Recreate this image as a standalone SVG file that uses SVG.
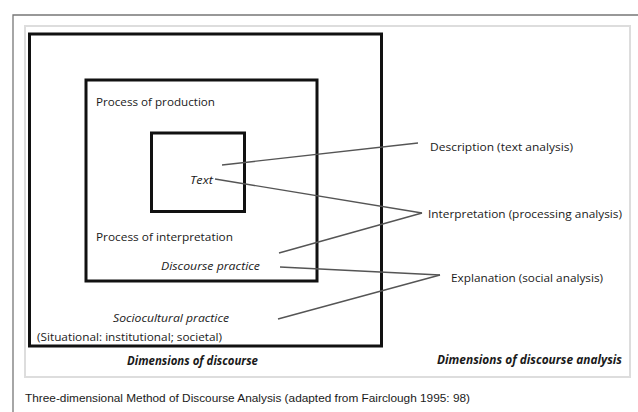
<svg xmlns="http://www.w3.org/2000/svg" width="638" height="412" viewBox="0 0 638 412">
<style>
.box{fill:none;stroke:#111;stroke-width:3}
.t{font-family:"Open Sans",Lato,"Liberation Sans",sans-serif;font-size:11.5px;fill:#1a1a1a}
.i{font-style:italic}
.b{font-weight:bold;font-style:italic}
.c{stroke:#555;stroke-width:1.4;fill:none}
.cap{font-family:"Liberation Sans",Arial,sans-serif;font-size:11.5px;fill:#1a1a1a}
</style>
<rect width="638" height="412" fill="#fff"/>
<g id="frame">
<path d="M13 412 V15 H638" fill="none" stroke="#777" stroke-width="1.3"/>
<rect x="25" y="26" width="605" height="351" fill="none" stroke="#ddd" stroke-width="2"/>
</g>
<g id="sociocultural">
<rect class="box" x="29.5" y="34" width="352" height="312"/>
<text class="t i" x="113" y="322" textLength="116" lengthAdjust="spacingAndGlyphs">Sociocultural practice</text>
<text class="t" x="37" y="341" textLength="185" lengthAdjust="spacingAndGlyphs">(Situational: institutional; societal)</text>
</g>
<g id="discourse">
<rect class="box" x="86" y="80" width="231" height="201"/>
<text class="t" x="96" y="106" textLength="119" lengthAdjust="spacingAndGlyphs">Process of production</text>
<text class="t" x="96" y="241" textLength="137" lengthAdjust="spacingAndGlyphs">Process of interpretation</text>
<text class="t i" x="161" y="270" textLength="99" lengthAdjust="spacingAndGlyphs">Discourse practice</text>
</g>
<g id="text">
<rect class="box" x="151.5" y="133" width="93" height="78.5" stroke-width="2.6"/>
<text class="t i" x="190" y="184" textLength="23" lengthAdjust="spacingAndGlyphs">Text</text>
</g>
<g id="connectors">
<line class="c" x1="222" y1="165" x2="418" y2="143"/>
<line class="c" x1="215" y1="179" x2="422" y2="213"/>
<line class="c" x1="279" y1="253" x2="422" y2="213"/>
<line class="c" x1="280" y1="267" x2="440" y2="275"/>
<line class="c" x1="278" y1="319" x2="440" y2="275"/>
</g>
<g id="description"><text class="t" x="430" y="151" textLength="143" lengthAdjust="spacingAndGlyphs">Description (text analysis)</text></g>
<g id="interpretation"><text class="t" x="428" y="218" textLength="194" lengthAdjust="spacingAndGlyphs">Interpretation (processing analysis)</text></g>
<g id="explanation"><text class="t" x="451" y="282" textLength="152" lengthAdjust="spacingAndGlyphs">Explanation (social analysis)</text></g>
<g id="labels">
<text class="t b" x="127" y="365" textLength="131" lengthAdjust="spacingAndGlyphs">Dimensions of discourse</text>
<text class="t b" x="437" y="364" textLength="185" lengthAdjust="spacingAndGlyphs">Dimensions of discourse analysis</text>
</g>
<text class="cap" x="25" y="402" textLength="445" lengthAdjust="spacingAndGlyphs">Three-dimensional Method of Discourse Analysis (adapted from Fairclough 1995: 98)</text>
</svg>
